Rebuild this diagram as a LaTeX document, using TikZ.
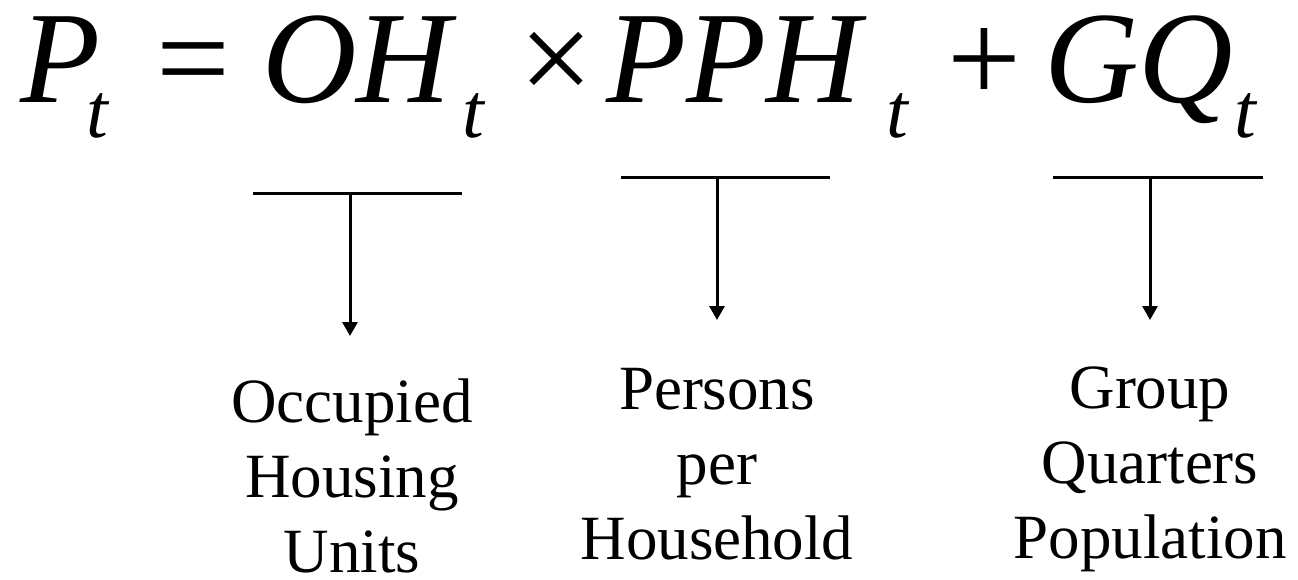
\documentclass[tikz,border=0pt]{standalone}
\usepackage{fontspec}
\setmainfont{Liberation Serif}
\usetikzlibrary{arrows.meta}
\tikzset{
  bigsym/.style={anchor=base west, inner sep=0pt, font=\fontsize{131}{131}\selectfont},
  subsym/.style={anchor=base west, inner sep=0pt, font=\fontsize{78}{78}\selectfont\itshape},
  brace/.style={line width=3pt},
  pointer/.style={line width=3pt, -{Triangle[width=15pt,length=14pt]}},
  caption/.style={anchor=base, inner sep=0pt, align=center, font=\fontsize{63}{75}\selectfont}
}
\begin{document}
\begin{tikzpicture}[x=1pt, y=-1pt]
  \useasboundingbox (0,0) rectangle (1298,579);
  % 1. the equation
  \node[bigsym] (pt) at (20,102) {\itshape P};
  \node[subsym] (pt-sub) at (86,137) {t};
  \node[bigsym] (eq) at (156,102) {=};
  \node[bigsym] (oh) at (262,102) {\itshape OH};
  \node[subsym] (oh-sub) at (462,137) {t};
  \node[bigsym] (times) at (519,102) {×};
  \node[bigsym] (pph) at (606,102) {\itshape PPH};
  \node[subsym] (pph-sub) at (886,137) {t};
  \node[bigsym] (plus) at (947,102) {+};
  \node[bigsym] (gq) at (1044,102) {\itshape GQ};
  \node[subsym] (gq-sub) at (1234,137) {t};

  % 2. brackets and pointers
  \coordinate (oh-l) at (253,193);
  \coordinate (oh-r) at (462,193);
  \coordinate (oh-m) at (350,193);
  \coordinate (oh-tip) at (350,336);
  \coordinate (pph-l) at (621,177);
  \coordinate (pph-r) at (830,177);
  \coordinate (pph-m) at (717,177);
  \coordinate (pph-tip) at (717,320);
  \coordinate (gq-l) at (1053,177);
  \coordinate (gq-r) at (1263,177);
  \coordinate (gq-m) at (1150,177);
  \coordinate (gq-tip) at (1150,320);
  \draw[brace] (oh-l) -- (oh-r);
  \draw[brace] (pph-l) -- (pph-r);
  \draw[brace] (gq-l) -- (gq-r);
  \draw[pointer] (oh-m) -- (oh-tip);
  \draw[pointer] (pph-m) -- (pph-tip);
  \draw[pointer] (gq-m) -- (gq-tip);

  % 3. captions (base = last line)
  \node[caption] (units) at (352,572) {Occupied\\Housing\\Units};
  \node[caption] (pph-text) at (717,559) {Persons\\per\\Household};
  \node[caption] (gq-text) at (1150,558) {Group\\Quarters\\Population};
\end{tikzpicture}
\end{document}
